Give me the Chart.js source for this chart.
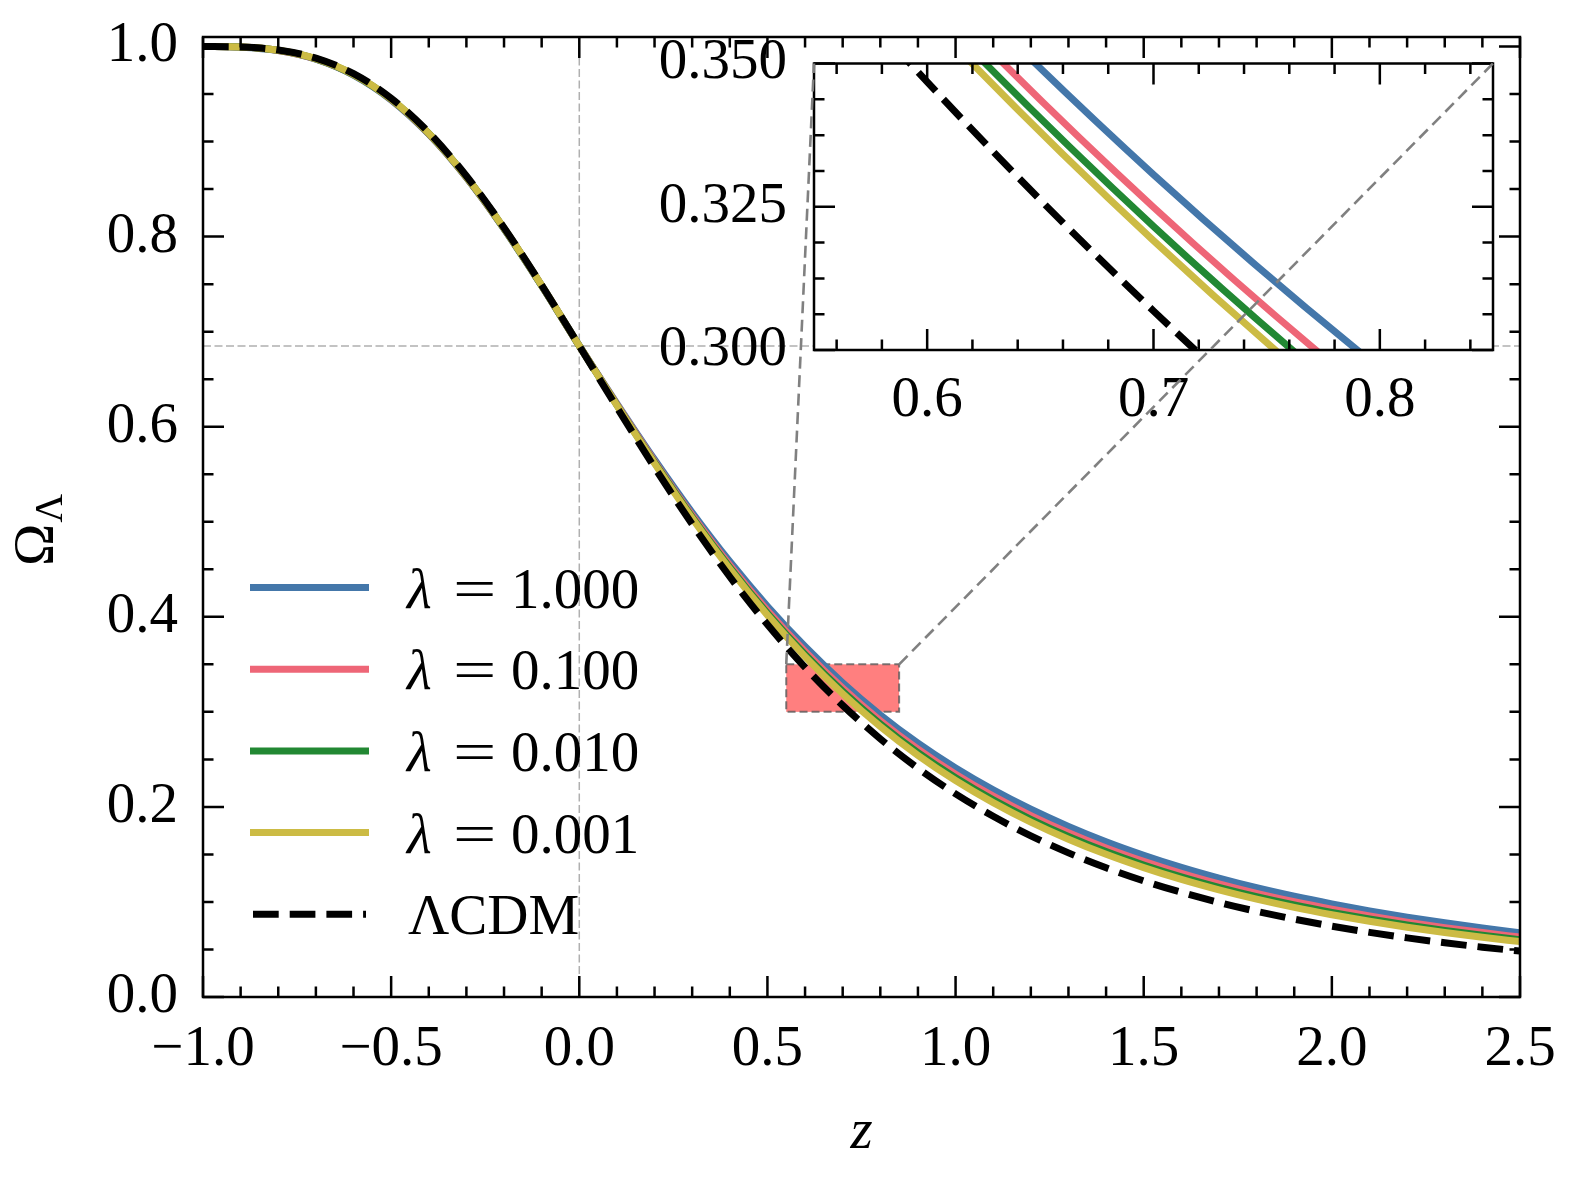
<!DOCTYPE html>
<html>
<head>
<meta charset="utf-8">
<script src="https://cdn.jsdelivr.net/npm/chart.js@4.4.1/dist/chart.umd.min.js"></script>
<style>
html,body{margin:0;padding:0;background:#fff;}
#wrap{position:relative;width:1580px;height:1181px;}
#wrap canvas{position:absolute;left:0;top:0;}
</style>
</head>
<body>
<div id="wrap">
<canvas id="main" width="1580" height="1181" style="width:1580px;height:1181px"></canvas>
<canvas id="inset" width="1580" height="1181" style="width:1580px;height:1181px"></canvas>
</div>
<script>
// ---------------- data ----------------
const redshift = [-1.0,-0.9,-0.8,-0.7,-0.6,-0.5,-0.4,-0.3,-0.2,-0.1,0.0,0.1,0.2,0.3,0.4,0.5,0.6,0.7,0.8,0.9,1.0,1.1,1.2,1.3,1.4,1.5,1.6,1.7,1.8,1.9,2.0,2.1,2.2,2.3,2.4,2.5];

const omegaLambda1000 = [1.0,0.99934,0.99573,0.98664,0.96991,0.94384,0.90775,0.86206,0.80812,0.74823,0.685,0.62432,0.56542,0.50964,0.45812,0.41115,0.36879,0.33062,0.29680,0.26702,0.24093,0.21796,0.19759,0.17953,0.16342,0.14917,0.13640,0.12509,0.11493,0.10596,0.09794,0.09063,0.08403,0.07806,0.07263,0.06767];
const omegaLambda0100 = [1.0,0.99939,0.99587,0.98690,0.97027,0.94427,0.90821,0.86247,0.80843,0.74840,0.685,0.62336,0.56345,0.50671,0.45428,0.40652,0.36351,0.32491,0.29075,0.26071,0.23440,0.21129,0.19087,0.17283,0.15682,0.14269,0.13009,0.11895,0.10898,0.10018,0.09232,0.08521,0.07880,0.07302,0.06778,0.06301];
const omegaLambda0010 = [1.0,0.99942,0.99596,0.98706,0.97048,0.94452,0.90847,0.86271,0.80861,0.74850,0.685,0.62280,0.56230,0.50500,0.45204,0.40382,0.36043,0.32158,0.28722,0.25703,0.23059,0.20740,0.18695,0.16893,0.15297,0.13891,0.12641,0.11536,0.10551,0.09680,0.08905,0.08204,0.07575,0.07008,0.06495,0.06030];
const omegaLambda0001 = [1.0,0.99944,0.99602,0.98717,0.97064,0.94471,0.90867,0.86288,0.80875,0.74857,0.685,0.62238,0.56144,0.50372,0.45036,0.40179,0.35812,0.31908,0.28458,0.25426,0.22774,0.20448,0.18401,0.16600,0.15008,0.13608,0.12364,0.11267,0.10290,0.09427,0.08659,0.07967,0.07346,0.06788,0.06283,0.05826];
const omegaLCDM = [1.0,0.99954,0.99633,0.98774,0.97141,0.94564,0.90965,0.86376,0.80942,0.74893,0.685,0.62032,0.55722,0.49744,0.44212,0.39185,0.34679,0.30682,0.27160,0.24072,0.21373,0.19016,0.16959,0.15163,0.13592,0.12217,0.11010,0.09949,0.09013,0.08186,0.07454,0.06803,0.06223,0.05706,0.05243,0.04827];

const seriesLabels = ['λ = 1.000','λ = 0.100','λ = 0.010','λ = 0.001','ΛCDM'];

const xTicksMain = [-1.0,-0.5,0.0,0.5,1.0,1.5,2.0,2.5];
const yTicksMain = [0.0,0.2,0.4,0.6,0.8,1.0];
const xTicksInset = [0.6,0.7,0.8];
const yTicksInset = [0.300,0.325,0.350];

const mainRangeX = [-1.0, 2.5];
const mainRangeY = [0.0, 1.01];
const zoomRangeX = [0.55, 0.85];
const zoomRangeY = [0.30, 0.35];
const todayZ = 0.0;
const todayOmega = 0.685;

// ---------------- styles / layout ----------------
const seriesColors = ['#4477AA','#EE6677','#228833','#CCBB44','#000000'];
const FONT = '"Liberation Serif", "Times New Roman", serif';
const FS = 57;
const mainArea = {left: 203, top: 37, right: 1520, bottom: 997};
const insetArea = {left: 814, top: 63.5, right: 1493, bottom: 350};
Chart.defaults.font.family = FONT;
Chart.defaults.color = '#000';

function fmt(v, d){ return (v < -1e-9 ? '\u2212' : '') + Math.abs(v).toFixed(d); }

function makeDatasets(){
  const vals = [omegaLambda1000, omegaLambda0100, omegaLambda0010, omegaLambda0001, omegaLCDM];
  return vals.map((arr, i) => ({
    label: seriesLabels[i],
    data: redshift.map((z, j) => ({x: z, y: arr[j]})),
    borderColor: seriesColors[i],
    backgroundColor: seriesColors[i],
    borderWidth: 7,
    borderDash: i === 4 ? [25.7, 11] : [],
    borderCapStyle: 'butt',
    borderJoinStyle: 'round',
    pointRadius: 0,
    fill: false,
    cubicInterpolationMode: 'monotone',
    capBezierPoints: false,
    order: 4 - i,
    clip: 0
  }));
}

function minorValues(min, max, step, majors){
  const out = [];
  const k0 = Math.ceil(min / step - 1e-6), k1 = Math.floor(max / step + 1e-6);
  for (let k = k0; k <= k1; k++){
    const v = k * step;
    if (!majors.some(m => Math.abs(m - v) < step * 1e-3)) out.push(v);
  }
  return out;
}

function drawFrameTicks(chart, xMaj, xStep, yMaj, yStep){
  const {ctx, chartArea: a, scales: {x, y}} = chart;
  const ML = 21, mL = 10.5;
  ctx.save();
  ctx.strokeStyle = '#000';
  ctx.lineWidth = 2.5;
  ctx.setLineDash([]);
  ctx.lineCap = 'butt';
  ctx.beginPath();
  const xt = (v, L) => { const p = x.getPixelForValue(v); ctx.moveTo(p, a.bottom); ctx.lineTo(p, a.bottom - L); ctx.moveTo(p, a.top); ctx.lineTo(p, a.top + L); };
  const yt = (v, L) => { const p = y.getPixelForValue(v); ctx.moveTo(a.left, p); ctx.lineTo(a.left + L, p); ctx.moveTo(a.right, p); ctx.lineTo(a.right - L, p); };
  xMaj.forEach(v => xt(v, ML));
  minorValues(x.min, x.max, xStep, xMaj).forEach(v => xt(v, mL));
  yMaj.forEach(v => yt(v, ML));
  minorValues(y.min, y.max, yStep, yMaj).forEach(v => yt(v, mL));
  ctx.stroke();
  ctx.strokeRect(a.left, a.top, a.right - a.left, a.bottom - a.top);
  ctx.restore();
}

function drawLegendLabel(ctx, text, x, baseY){
  ctx.fillStyle = '#000';
  ctx.textBaseline = 'alphabetic';
  ctx.textAlign = 'left';
  if (text.startsWith('λ')){
    const rest = text.replace('λ', '').replace('=', '').trim();
    ctx.font = 'italic ' + FS + 'px ' + FONT;
    ctx.fillText('λ', x, baseY);
    ctx.font = FS + 'px ' + FONT;
    ctx.save();
    ctx.translate(x + 46, baseY);
    ctx.scale(1.35, 1);
    ctx.fillText('=', 0, 0);
    ctx.restore();
    ctx.fillText(rest, x + 104, baseY);
  } else {
    ctx.font = FS + 'px ' + FONT;
    ctx.fillText(text, x + 1, baseY);
  }
}

function drawLegend(chart){
  const ctx = chart.ctx;
  const ds = chart.data.datasets;
  const lineX0 = 250, lineX1 = 369, textX = 407, row0 = 587.5, rowStep = 81.7;
  ds.forEach((d, i) => {
    const yy = row0 + i * rowStep;
    const dashed = d.borderDash && d.borderDash.length;
    ctx.save();
    ctx.strokeStyle = d.borderColor;
    ctx.lineWidth = d.borderWidth;
    ctx.lineCap = 'butt';
    ctx.setLineDash(d.borderDash || []);
    ctx.beginPath();
    ctx.moveTo(lineX0 + (dashed ? 3 : 0), yy);
    ctx.lineTo(lineX1 - (dashed ? 3 : 0), yy);
    ctx.stroke();
    ctx.restore();
    drawLegendLabel(ctx, d.label, textX, yy + 20);
  });
}

function drawAxisTitles(chart){
  const {ctx, chartArea: a} = chart;
  ctx.save();
  ctx.fillStyle = '#000';
  ctx.textBaseline = 'alphabetic';
  ctx.font = 'italic ' + FS + 'px ' + FONT;
  ctx.textAlign = 'center';
  ctx.fillText('z', (a.left + a.right) / 2, 1148);
  ctx.translate(53, 566);
  ctx.rotate(-Math.PI / 2);
  ctx.textAlign = 'left';
  ctx.font = FS + 'px ' + FONT;
  ctx.fillText('Ω', 0, 0);
  const w = ctx.measureText('Ω').width;
  ctx.font = '40px ' + FONT;
  ctx.fillText('Λ', w + 1, 9);
  ctx.restore();
}

const mainPlugin = {
  id: 'mainDeco',
  beforeDraw(chart){
    const ctx = chart.ctx;
    ctx.save(); ctx.fillStyle = '#fff'; ctx.fillRect(0, 0, chart.width, chart.height); ctx.restore();
  },
  beforeDatasetsDraw(chart){
    const {ctx, chartArea: a, scales: {x, y}} = chart;
    ctx.save();
    ctx.strokeStyle = '#b0b0b0';
    ctx.lineWidth = 1.5;
    ctx.setLineDash([8, 3.5]);
    ctx.beginPath();
    const px = x.getPixelForValue(todayZ), py = y.getPixelForValue(todayOmega);
    ctx.moveTo(px, a.bottom); ctx.lineTo(px, a.top);
    ctx.moveTo(a.left, py); ctx.lineTo(a.right, py);
    ctx.stroke();
    // zoom rectangle (under the curves)
    const x0 = x.getPixelForValue(zoomRangeX[0]), x1 = x.getPixelForValue(zoomRangeX[1]);
    const y0 = y.getPixelForValue(zoomRangeY[1]), y1 = y.getPixelForValue(zoomRangeY[0]);
    ctx.fillStyle = 'rgba(255,0,0,0.5)';
    ctx.fillRect(x0, y0, x1 - x0, y1 - y0);
    ctx.strokeStyle = 'rgba(90,90,90,0.8)';
    ctx.lineWidth = 2;
    ctx.setLineDash([8, 4]);
    ctx.strokeRect(x0, y0, x1 - x0, y1 - y0);
    ctx.restore();
  },
  afterDatasetsDraw(chart){
    drawFrameTicks(chart, xTicksMain, 0.1, yTicksMain, 0.05);
    drawLegend(chart);
    drawAxisTitles(chart);
  }
};

function zeroScalePadding(s){ s.paddingTop = 0; s.paddingBottom = 0; s.paddingLeft = 0; s.paddingRight = 0; }

function fitArea(chart, target){
  for (let it = 0; it < 5; it++){
    const a = chart.chartArea, p = chart.options.layout.padding;
    const dl = target.left - a.left, dt = target.top - a.top, dr = a.right - target.right, db = a.bottom - target.bottom;
    if (Math.abs(dl) + Math.abs(dt) + Math.abs(dr) + Math.abs(db) < 0.2) break;
    p.left += dl; p.top += dt; p.right += dr; p.bottom += db;
    chart.update();
  }
}

const mainChart = new Chart(document.getElementById('main'), {
  type: 'line',
  data: {datasets: makeDatasets()},
  options: {
    responsive: false,
    animation: false,
    devicePixelRatio: 1,
    events: [],
    layout: {padding: {left: 0, top: mainArea.top, right: 1580 - mainArea.right, bottom: 0}},
    elements: {line: {capBezierPoints: false}},
    plugins: {legend: {display: false}, tooltip: {enabled: false}},
    scales: {
      x: {
        type: 'linear', min: mainRangeX[0], max: mainRangeX[1],
        grid: {display: false, drawTicks: false}, border: {display: false},
        afterBuildTicks: s => { s.ticks = xTicksMain.map(v => ({value: v})); },
        afterFit: s => { s.height = 1181 - mainArea.bottom; zeroScalePadding(s); },
        ticks: {padding: 19, font: {size: FS, family: FONT}, color: '#000', autoSkip: false, maxRotation: 0, callback: v => fmt(v, 1)}
      },
      y: {
        type: 'linear', min: mainRangeY[0], max: mainRangeY[1],
        grid: {display: false, drawTicks: false}, border: {display: false},
        afterBuildTicks: s => { s.ticks = yTicksMain.map(v => ({value: v})); },
        afterFit: s => { s.width = mainArea.left; zeroScalePadding(s); },
        ticks: {padding: 25, font: {size: FS, family: FONT}, color: '#000', autoSkip: false, callback: v => fmt(v, 1)}
      }
    }
  },
  plugins: [mainPlugin]
});
fitArea(mainChart, mainArea);

const insetPlugin = {
  id: 'insetDeco',
  beforeDatasetsDraw(chart){
    const {ctx, chartArea: a} = chart;
    ctx.save(); ctx.fillStyle = '#fff'; ctx.fillRect(a.left, a.top, a.right - a.left, a.bottom - a.top); ctx.restore();
  },
  afterDraw(chart){
    drawFrameTicks(chart, xTicksInset, 0.02, yTicksInset, 0.00625);
    const {ctx, chartArea: a} = chart;
    const mx = mainChart.scales.x, my = mainChart.scales.y;
    const rx0 = mx.getPixelForValue(zoomRangeX[0]), rx1 = mx.getPixelForValue(zoomRangeX[1]);
    const ry = my.getPixelForValue(zoomRangeY[1]);
    ctx.save();
    ctx.strokeStyle = '#808080';
    ctx.lineWidth = 2.6;
    ctx.setLineDash([12, 6.5]);
    ctx.beginPath();
    ctx.moveTo(rx0, ry); ctx.lineTo(a.left, a.top);
    ctx.moveTo(rx1, ry); ctx.lineTo(a.right, a.top);
    ctx.stroke();
    ctx.restore();
  }
};

const insetChart = new Chart(document.getElementById('inset'), {
  type: 'line',
  data: {datasets: makeDatasets()},
  options: {
    responsive: false,
    animation: false,
    devicePixelRatio: 1,
    events: [],
    layout: {padding: {left: insetArea.left - 160, top: insetArea.top, right: 1580 - insetArea.right, bottom: 1181 - insetArea.bottom - 100}},
    elements: {line: {capBezierPoints: false}},
    plugins: {legend: {display: false}, tooltip: {enabled: false}},
    scales: {
      x: {
        type: 'linear', min: zoomRangeX[0], max: zoomRangeX[1],
        grid: {display: false, drawTicks: false}, border: {display: false},
        afterBuildTicks: s => { s.ticks = xTicksInset.map(v => ({value: v})); },
        afterFit: s => { s.height = 100; zeroScalePadding(s); },
        ticks: {padding: 17, font: {size: FS, family: FONT}, color: '#000', autoSkip: false, maxRotation: 0, callback: v => fmt(v, 1)}
      },
      y: {
        type: 'linear', min: zoomRangeY[0], max: zoomRangeY[1],
        grid: {display: false, drawTicks: false}, border: {display: false},
        afterBuildTicks: s => { s.ticks = yTicksInset.map(v => ({value: v})); },
        afterFit: s => { s.width = 160; zeroScalePadding(s); },
        ticks: {padding: 27, font: {size: FS, family: FONT}, color: '#000', autoSkip: false, callback: v => fmt(v, 3)}
      }
    }
  },
  plugins: [insetPlugin]
});
fitArea(insetChart, insetArea);
</script>
</body>
</html>
